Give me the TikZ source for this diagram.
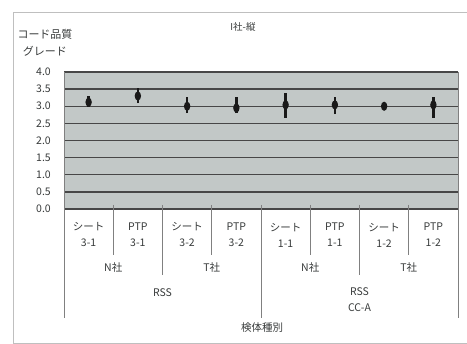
\documentclass[tikz,border=0pt]{standalone}
\usepackage{fontspec}
\newfontfamily\jpfont{Noto Sans CJK JP}
\definecolor{plotbg}{RGB}{194,200,199}
\definecolor{inkgray}{RGB}{55,58,58}

\begin{document}
\begin{tikzpicture}[x=1pt,y=-1pt,
	lbl/.style={font=\jpfont\fontsize{10.5}{16}\selectfont,text=inkgray,align=center,inner sep=0pt},
	gridline/.style={draw=black!72,line width=1.3pt},
	divline/.style={draw=black!50,line width=0.6pt},
	errbar/.style={draw=black!90,line width=2.4pt}]
	\useasboundingbox (0,0) rectangle (467,344);
	\draw[black!25,line width=0.8pt] (13,12) rectangle (480,343);
	% title and y axis title
	\node[lbl,font=\jpfont\fontsize{9.5}{10}\selectfont] (title) at (243,27) {I社-縦};
	\node[lbl,font=\jpfont\fontsize{11}{17}\selectfont] (ytitle) at (45,43) {コード品質\\グレード};
	% plot area
	\fill[plotbg] (64,72) rectangle (458,209);
	\foreach \k/\t in {0/0.0,1/0.5,2/1.0,3/1.5,4/2.0,5/2.5,6/3.0,7/3.5,8/4.0}{
		\draw[gridline] (64,{209-\k*17.125}) -- (458,{209-\k*17.125});
		\node[lbl,anchor=east,font=\jpfont\fontsize{10.5}{12}\selectfont] (y\k) at (51,{209-\k*17.125}) {\t};
	}
	\draw[divline] (64,72) -- (64,318);   \draw[divline] (458,72) -- (458,318);
	\draw[divline] (261,205) -- (261,318);
	\foreach \x in {162.5,359.5}
	\draw[divline] (\x,205) -- (\x,275);
	\foreach \x in {113.25,211.75,310.25,408.75}
	\draw[divline] (\x,205) -- (\x,255);
	% category labels
	\foreach \c/\a/\b in {1/シート/3-1,2/PTP/3-1,3/シート/3-2,4/PTP/3-2,5/シート/1-1,6/PTP/1-1,7/シート/1-2,8/PTP/1-2}
	\node[lbl] (cat\c) at ({64+(\c-0.5)*49.25},235) {\a\\\b};
	\foreach \x/\n/\t in {113.25/1/N社,211.75/2/T社,310.25/3/N社,408.75/4/T社}
	\node[lbl] (co\n) at (\x,268) {\t};
	\node[lbl] (grpa) at (162.5,293) {RSS};
	\node[lbl] (grpb) at (359.5,300) {RSS\\CC-A};
	\node[lbl] (xtitle) at (262,328) {検体種別};
	% data points with ranges
	\foreach \c/\m/\lo/\hi in {1/3.12/2.98/3.3,2/3.3/3.09/3.53,3/3.0/2.8/3.27,4/2.95/2.8/3.27,5/3.04/2.66/3.39,6/3.04/2.77/3.27,7/3.0/2.97/3.05,8/3.04/2.66/3.27}{
		\draw[errbar] ({64+(\c-0.5)*49.25},{209-\lo*34.25}) -- ({64+(\c-0.5)*49.25},{209-\hi*34.25});
		\fill[black!90] ({64+(\c-0.5)*49.25},{209-\m*34.25}) ellipse (3.2 and 4.6);
	}
\end{tikzpicture}
\end{document}
